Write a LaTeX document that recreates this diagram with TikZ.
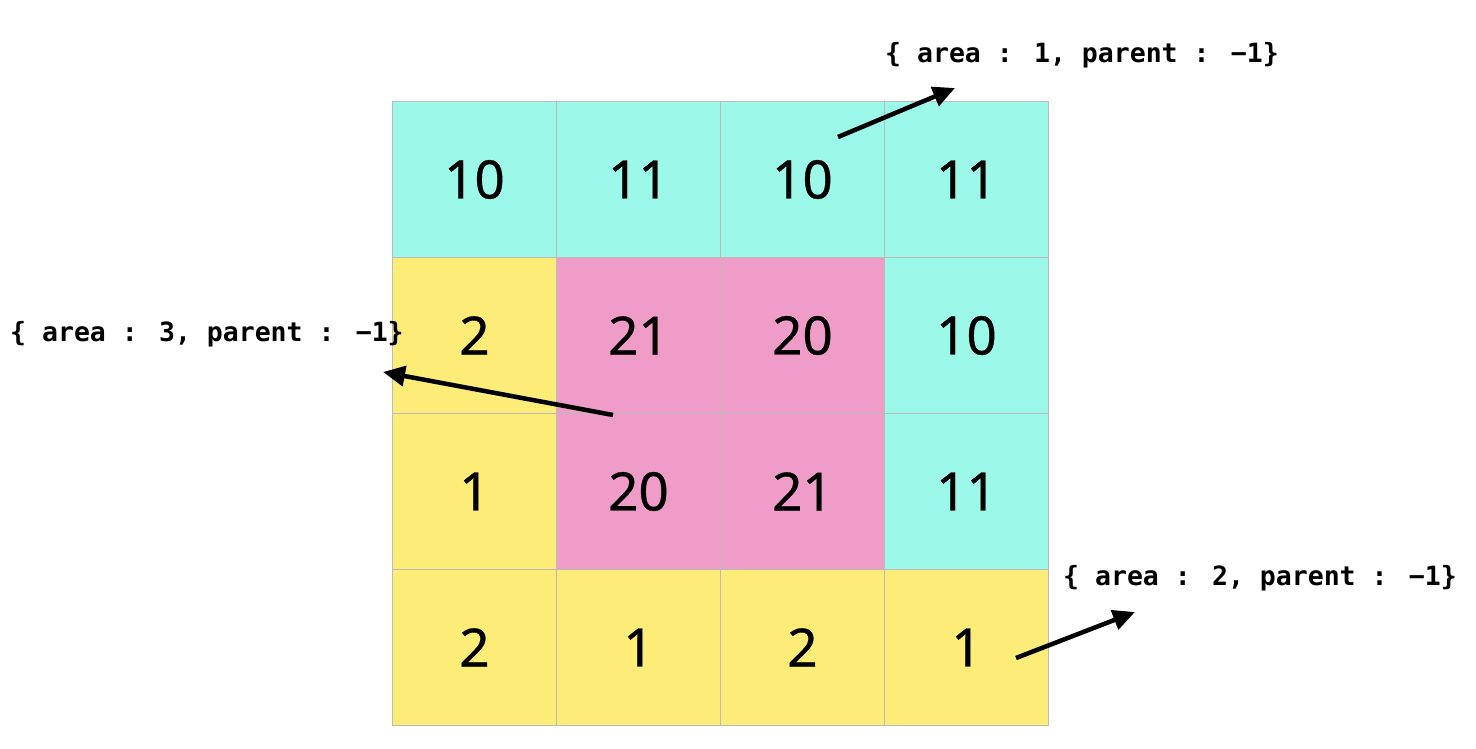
\documentclass[tikz,border=0pt]{standalone}
\usepackage{fontspec}
\setmainfont{Noto Sans}[FakeBold=0.6]
\newfontfamily\codefont{DejaVu Sans Mono}[BoldFont={DejaVu Sans Mono Bold}]
\usetikzlibrary{arrows.meta}
\definecolor{cy}{HTML}{9CF8E9}
\definecolor{ye}{HTML}{FDED78}
\definecolor{pk}{HTML}{F09CC8}
\definecolor{gl}{HTML}{BBBBBB}
\tikzset{
  cellbox/.style={draw=gl, line width=1pt, minimum width=164pt, minimum height=156pt, inner sep=0pt, anchor=north west, font=\bfseries\fontsize{53}{60}\selectfont},
  label/.style={font=\codefont\bfseries\fontsize{26.5}{30}\selectfont, inner sep=0pt, anchor=west},
  pointer/.style={-{Triangle[length=22pt,width=20pt]}, line width=4.5pt},
}
\begin{document}
\begin{tikzpicture}[x=1pt,y=-1pt]
\useasboundingbox (0,0) rectangle (1476,748);
\fill[white] (0,0) rectangle (1476,748);
% row 1
\node[cellbox,fill=cy] (c11) at (392,101) {10};
\node[cellbox,fill=cy] (c12) at (556,101) {11};
\node[cellbox,fill=cy] (c13) at (720,101) {10};
\node[cellbox,fill=cy] (c14) at (884,101) {11};
% row 2
\node[cellbox,fill=ye] (c21) at (392,257) {2};
\node[cellbox,fill=pk] (c22) at (556,257) {21};
\node[cellbox,fill=pk] (c23) at (720,257) {20};
\node[cellbox,fill=cy] (c24) at (884,257) {10};
% row 3
\node[cellbox,fill=ye] (c31) at (392,413) {1};
\node[cellbox,fill=pk] (c32) at (556,413) {20};
\node[cellbox,fill=pk] (c33) at (720,413) {21};
\node[cellbox,fill=cy] (c34) at (884,413) {11};
% row 4
\node[cellbox,fill=ye] (c41) at (392,569) {2};
\node[cellbox,fill=ye] (c42) at (556,569) {1};
\node[cellbox,fill=ye] (c43) at (720,569) {2};
\node[cellbox,fill=ye] (c44) at (884,569) {1};
% labels
\node[label] (l1) at (885,55) {\{ area : 1, parent : −1\}};
\node[label] (l3) at (10,334) {\{ area : 3, parent : −1\}};
\node[label] (l2) at (1063,578) {\{ area : 2, parent : −1\}};
% arrows
\coordinate (a1s) at (838,137);
\coordinate (a1e) at (955,88);
\coordinate (a3s) at (613,415);
\coordinate (a3e) at (383,372);
\coordinate (a2s) at (1016,658);
\coordinate (a2e) at (1135,612);
\draw[pointer] (a1s) -- (a1e);
\draw[pointer] (a3s) -- (a3e);
\draw[pointer] (a2s) -- (a2e);
\end{tikzpicture}
\end{document}
